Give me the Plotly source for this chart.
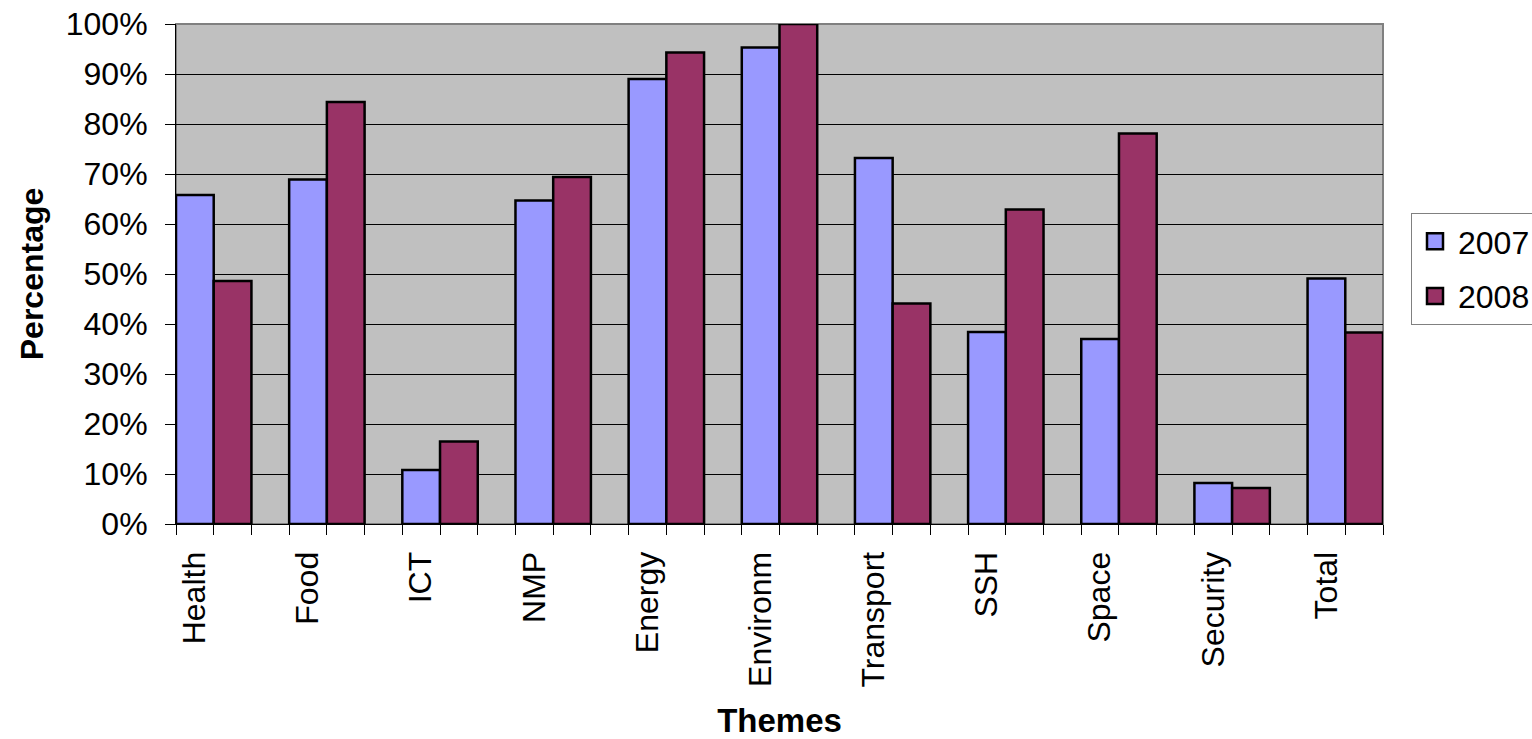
import plotly.graph_objects as go

categories = ["Health", "Food", "ICT", "NMP", "Energy", "Environm",
              "Transport", "SSH", "Space", "Security", "Total"]
values_2007 = [0.658, 0.689, 0.108, 0.647, 0.890, 0.953, 0.732, 0.384, 0.370, 0.082, 0.491]
values_2008 = [0.486, 0.844, 0.165, 0.694, 0.943, 1.000, 0.441, 0.629, 0.781, 0.072, 0.383]
series_names = ["2007", "2008"]
series_colors = ["#9999FF", "#993366"]
y_ticks = [i / 10 for i in range(11)]

idx = list(range(len(categories)))
FONT = "Liberation Sans, Arial, sans-serif"

fig = go.Figure()
for name, vals, col in zip(series_names, [values_2007, values_2008], series_colors):
    fig.add_trace(go.Bar(
        x=idx, y=vals, name=name, showlegend=False,
        marker=dict(color=col, line=dict(color="black", width=2.5)),
    ))
# legend entries (larger square swatches)
for name, col in zip(series_names, series_colors):
    fig.add_trace(go.Scatter(
        x=[None], y=[None], mode="markers", name=name, legendgroup=name,
        marker=dict(symbol="square", size=18, color=col, line=dict(color="black", width=2.5)),
    ))

fig.update_layout(
    width=1532, height=739,
    margin=dict(l=176, r=149, t=24, b=215, autoexpand=False),
    barmode="group", bargap=1/3, bargroupgap=0,
    plot_bgcolor="#C0C0C0", paper_bgcolor="white",
    font=dict(family=FONT, size=32, color="black"),
    legend=dict(
        x=1.0232, xanchor="left", y=0.51, yanchor="middle",
        bordercolor="#808080", borderwidth=1, bgcolor="white",
        font=dict(size=32), tracegroupgap=10, itemwidth=36,
    ),
    shapes=[dict(type="rect", xref="paper", yref="paper", x0=0, y0=0, x1=1, y1=1,
                 line=dict(color="#808080", width=2), layer="below")],
)

fig.update_xaxes(
    range=[-1/3, len(categories) - 1 + 1/3], automargin=False,
    tickmode="array", tickvals=idx, ticktext=categories, tickangle=-90,
    ticks="outside", ticklen=10, tickcolor="black", tickwidth=1,
    minor=dict(tickmode="linear", tick0=-1/3, dtick=1/3, ticks="outside",
               ticklen=10, tickcolor="black", tickwidth=1, showgrid=False),
    showline=True, linecolor="black", linewidth=1,
    showgrid=False, zeroline=False,
    ticklabelshift=-19, ticklabelstandoff=4,
    title=dict(text="<b>Themes</b>", font=dict(size=33), standoff=22),
)
fig.update_yaxes(
    range=[0, 1], automargin=False,
    tickmode="array", tickvals=y_ticks, tickformat=".0%",
    ticks="outside", ticklen=10, tickcolor="black", tickwidth=1,
    showline=True, linecolor="black", linewidth=1,
    showgrid=True, gridcolor="black", gridwidth=1, zeroline=False,
    ticklabelstandoff=11,
    title=dict(text="<b>Percentage</b>", font=dict(size=32), standoff=12),
)

fig.write_html("out.html", config={"displayModeBar": False},
               post_script="document.body.style.margin='0';document.body.style.overflow='hidden';")
